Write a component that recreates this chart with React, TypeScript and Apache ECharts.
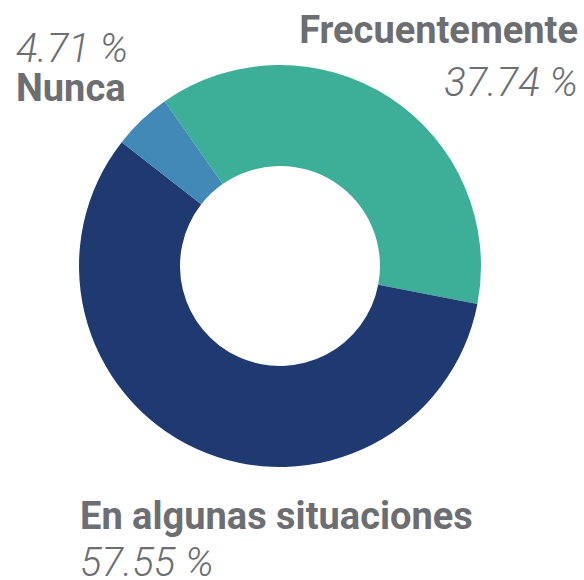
import React, { useEffect, useRef } from "react";
import * as echarts from "echarts";

const categories = ["Frecuentemente", "En algunas situaciones", "Nunca"];
const values = [37.74, 57.55, 4.71];
const colors = ["#3DAE98", "#1F3A70", "#4289B8"];

const TEXT = "#6D6E71";
const FONT = "Roboto";

export default function App() {
  const ref = useRef<HTMLDivElement>(null);
  useEffect(() => {
    if (!ref.current) return;
    const chart = echarts.init(ref.current, null, { renderer: "svg" });
    const nameStyle = { fontFamily: FONT, fontWeight: "bold", fontSize: 38, color: TEXT };
    const valStyle = { fontFamily: FONT, fontWeight: 300, fontStyle: "italic", fontSize: 40, color: TEXT };
    const rich = {
      n0: { ...nameStyle, lineHeight: 53 },
      v0: { ...valStyle, lineHeight: 53 },
      n1: { ...nameStyle, lineHeight: 58 },
      v1: { ...valStyle, lineHeight: 34 },
      n2: { ...nameStyle, lineHeight: 40 },
      v2: { ...valStyle, lineHeight: 40 },
    };
    const formatters = [
      (p: any) => `{n0|${p.name}}\n{v0|${p.value} %}`,
      (p: any) => `{n1|${p.name}}\n{v1|${p.value} %}`,
      (p: any) => `{v2|${p.value} %}\n{n2|${p.name}}`,
    ];
    const aligns = ["right", "left", "left"];
    const pos = [
      [578, 3],
      [80, 487],
      [16, 28],
    ];
    chart.setOption({
      animation: false,
      series: [
        {
          type: "pie",
          center: [280, 266],
          radius: [100, 201],
          startAngle: 125,
          clockwise: true,
          avoidLabelOverlap: false,
          labelLine: { show: false },
          label: {
            show: true,
            position: "outside",
            rich,
          },
          labelLayout: (params: any) => ({
            x: pos[params.dataIndex][0],
            y: pos[params.dataIndex][1],
            align: aligns[params.dataIndex],
            verticalAlign: "top",
          }),
          emphasis: { disabled: true },
          data: categories.map((c, i) => ({
            name: c,
            value: values[i],
            itemStyle: { color: colors[i] },
            label: { formatter: formatters[i], align: aligns[i] },
          })),
        },
      ],
    });
    return () => chart.dispose();
  }, []);
  return (
    <div
      ref={ref}
      style={{ position: "fixed", left: 0, top: 0, width: 584, height: 580, background: "#fff" }}
    />
  );
}
